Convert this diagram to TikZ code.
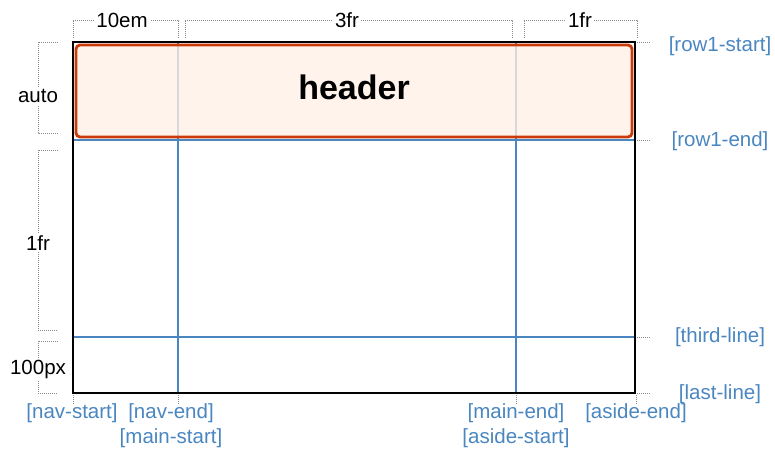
\documentclass[tikz,border=0pt]{standalone}
\usepackage{fontspec}
\setmainfont{Liberation Sans}
\definecolor{gridblue}{HTML}{4A86C0}
\definecolor{hdrfill}{HTML}{FFF0E6}
\definecolor{hdrline}{HTML}{CC3A0A}
\definecolor{dotgray}{HTML}{8A8A8A}
\begin{document}
\begin{tikzpicture}[x=1pt,y=-1pt,
  lbl/.style={font=\fontsize{20.5}{22}\selectfont, text=gridblue, inner sep=0pt, anchor=center},
  dim/.style={font=\fontsize{20.5}{22}\selectfont, text=black, fill=white, inner sep=2pt},
  brk/.style={draw=dotgray, dash pattern=on 1pt off 1pt, line width=1pt},
  gline/.style={draw=gridblue, line width=2.5pt},
  tick/.style={draw=dotgray, dash pattern=on 1pt off 1pt, line width=1pt}]
\useasboundingbox (0,0) rectangle (775,450);
% grid coordinates
\coordinate (tl) at (73,42);
\coordinate (br) at (635,393);
\coordinate (v1t) at (178,42); \coordinate (v1b) at (178,393);
\coordinate (v2t) at (516,42); \coordinate (v2b) at (516,393);
\coordinate (h1l) at (73,140); \coordinate (h1r) at (635,140);
\coordinate (h2l) at (73,337); \coordinate (h2r) at (635,337);
% grid lines
\draw[gline] (v1t) -- (v1b);
\draw[gline] (v2t) -- (v2b);
\draw[gline] (h1l) -- (h1r);
\draw[gline] (h2l) -- (h2r);
% header
\path[fill=hdrfill, fill opacity=0.78] (76,45) rectangle (632,137);
\draw[draw=hdrline, line width=2.8pt, rounded corners=4pt] (76,45) rectangle (632,137);
\node[font=\fontsize{34}{36}\selectfont\bfseries, inner sep=0pt] (header) at (354,87) {header};
% outer container
\draw[line width=2.8pt] (tl) rectangle (br);
% top brackets
\draw[brk] (73,38) -- (73,20) -- (178,20) -- (178,38);
\node[dim] (c1) at (122,20) {10em};
\draw[brk] (185,38) -- (185,20) -- (512,20) -- (512,38);
\node[dim] (c2) at (347,20) {3fr};
\draw[brk] (524,38) -- (524,20) -- (637,20) -- (637,38);
\node[dim] (c3) at (580,20) {1fr};
% left brackets
\draw[brk] (58,42) -- (38,42) -- (38,133) -- (58,133);
\node[dim] (r1) at (38,96) {auto};
\draw[brk] (58,150) -- (38,150) -- (38,330) -- (58,330);
\node[dim] (r2) at (38,243) {1fr};
\draw[brk] (58,341) -- (38,341) -- (38,393) -- (58,393);
\node[dim] (r3) at (38,369) {100px};
% right ticks and labels
\foreach \yy in {42,140,337,393} \draw[tick] (637,\yy) -- (650,\yy);
\node[lbl] (n1) at (720,46) {[row1-start]};
\node[lbl] (n2) at (720,141) {[row1-end]};
\node[lbl] (n3) at (720,337) {[third-line]};
\node[lbl] (n4) at (720,394) {[last-line]};
% bottom ticks and labels
\foreach \xx in {73,178,516,636} \draw[tick] (\xx,395) -- (\xx,405);
\node[lbl] (b1) at (72,413) {[nav-start]};
\node[lbl] (b2) at (171,413) {[nav-end]};
\node[lbl] (b3) at (171,438) {[main-start]};
\node[lbl] (b4) at (516,413) {[main-end]};
\node[lbl] (b5) at (516,438) {[aside-start]};
\node[lbl] (b6) at (636,413) {[aside-end]};
\end{tikzpicture}
\end{document}
